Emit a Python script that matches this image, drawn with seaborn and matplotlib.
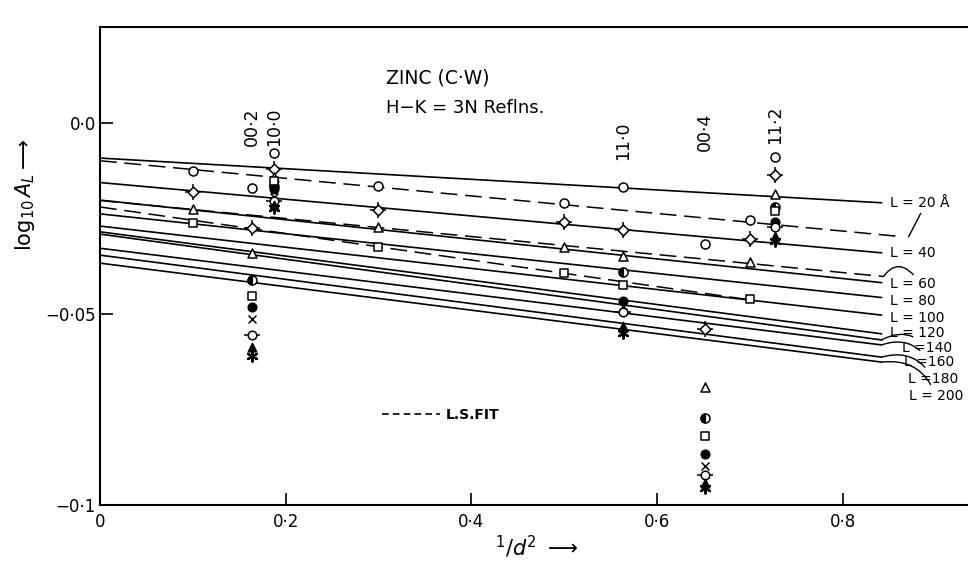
import matplotlib
matplotlib.use("Agg")
import pandas as pd
import matplotlib.pyplot as plt
from matplotlib.markers import MarkerStyle
from matplotlib.lines import Line2D
import seaborn as sns

sns.set_theme(style="white")
plt.rcParams['font.family'] = ['DejaVu Sans']
plt.rcParams['mathtext.fontset'] = 'dejavusans'
plt.rcParams['text.color'] = 'black'
plt.rcParams['axes.labelcolor'] = 'black'
plt.rcParams['xtick.color'] = 'black'
plt.rcParams['ytick.color'] = 'black'

# --- data ------------------------------------------------------------
L_values = [20, 40, 60, 80, 100, 120, 140, 160, 180, 200]

# solid fitted lines: value at 1/d^2 = 0 and at the right end
fit_x_end = 0.842
fit_start = [-0.0092, -0.0156, -0.0202, -0.0238, -0.0270,
             -0.0285, -0.0291, -0.0328, -0.0346, -0.0367]
fit_end = [-0.0209, -0.0340, -0.0418, -0.0457, -0.0503,
           -0.0552, -0.0568, -0.0581, -0.0613, -0.0626]

# dashed least squares fits
ls_x_end = [0.865, 0.844, 0.70]
ls_start = [-0.0099, -0.0203, -0.0220]
ls_end = [-0.0298, -0.0402, -0.0463]

# reflections (1/d^2) and measured log A_L for each L
refl_x = [0.1635, 0.1877, 0.563, 0.652, 0.727]
refl_names = ["00·2", "10·0", "11·0", "00·4", "11·2"]
refl_y = [
    [-0.0170, -0.0078, -0.0169, -0.0317, -0.0088],   # L=20
    [-0.0275, -0.0120, -0.0280, -0.0539, -0.0136],   # L=40
    [-0.0340, -0.0141, -0.0348, -0.0690, -0.0186],   # L=60
    [-0.0411, -0.0165, -0.0391, -0.0773, -0.0220],   # L=80
    [-0.0453, -0.0152, -0.0424, -0.0819, -0.0230],   # L=100
    [-0.0482, -0.0173, -0.0465, -0.0867, -0.0259],   # L=120
    [-0.0513, -0.0194, -0.0479, -0.0898, -0.0264],   # L=140
    [-0.0555, -0.0204, -0.0495, -0.0922, -0.0272],   # L=160
    [-0.0586, -0.0215, -0.0532, -0.0943, -0.0296],   # L=180
    [-0.0610, -0.0223, -0.0550, -0.0956, -0.0309],   # L=200
]

# extra points lying on the fits
extra_x = [0.1, 0.3, 0.5, 0.7]
extra_L = [20, 40, 60, 100]
extra_y = [
    [-0.0125, -0.0165, -0.0209, -0.0254],
    [-0.0180, -0.0228, -0.0258, -0.0305],
    [-0.0225, -0.0272, -0.0324, -0.0363],
    [-0.0261, -0.0324, -0.0394, -0.0460],
]

xtick_vals = [0, 0.2, 0.4, 0.6, 0.8]
xtick_labels = ["0", "0·2", "0·4", "0·6", "0·8"]
ytick_vals = [0.0, -0.05, -0.1]
ytick_labels = ["0·0", "−0·05", "−0·1"]

# --- long tables -----------------------------------------------------
fits = pd.DataFrame(
    [(L, 0.0, s) for L, s in zip(L_values, fit_start)] +
    [(L, fit_x_end, e) for L, e in zip(L_values, fit_end)],
    columns=["L", "x", "y"])
ls_fits = pd.DataFrame(
    [(i, 0.0, s) for i, s in enumerate(ls_start)] +
    [(i, xe, e) for i, (xe, e) in enumerate(zip(ls_x_end, ls_end))],
    columns=["k", "x", "y"])

rows = []
for L, ys in zip(L_values, refl_y):
    rows += [(L, x, y) for x, y in zip(refl_x, ys)]
for L, ys in zip(extra_L, extra_y):
    rows += [(L, x, y) for x, y in zip(extra_x, ys)]
points = pd.DataFrame(rows, columns=["L", "x", "y"])

# --- figure ----------------------------------------------------------
fig = plt.figure(figsize=(9.68, 5.86), dpi=100)
ax = fig.add_axes([0.1033, 0.1382, 0.8967, 0.8157])

sns.lineplot(data=fits, x="x", y="y", units="L", estimator=None,
             color="black", linewidth=1.2, ax=ax, zorder=2)
sns.lineplot(data=ls_fits, x="x", y="y", units="k", estimator=None,
             color="black", linewidth=1.1, dashes=False, ax=ax, zorder=2,
             linestyle=(0, (11, 5)))

open_kw = dict(color="white", edgecolor="black", linewidth=1.1)
line_kw = dict(color="black", linewidth=1.1)
fill_kw = dict(color="black", edgecolor="black", linewidth=0.8)
marker_layers = {
    20: [("o", 42, open_kw)],
    40: [("+", 120, line_kw), ("D", 30, open_kw)],
    60: [("^", 42, open_kw)],
    80: [("o", 42, open_kw), (MarkerStyle("o", fillstyle="left"), 42, fill_kw)],
    100: [("s", 30, open_kw)],
    120: [("o", 42, fill_kw)],
    140: [("x", 32, line_kw)],
    160: [("_", 130, line_kw), ("o", 38, open_kw)],
    180: [("^", 42, fill_kw)],
    200: [((6, 2, 0), 55, dict(color="black", linewidth=1.6))],
}
for L in L_values:
    sub = points[points["L"] == L]
    for marker, size, kw in marker_layers[L]:
        sns.scatterplot(data=sub, x="x", y="y", marker=marker, s=size,
                        ax=ax, zorder=3, legend=False, **kw)

# reflection names above the columns
name_y = [-0.0010, -0.0010, -0.0047, -0.0024, -0.0005]
for x, name, y in zip(refl_x, refl_names, name_y):
    ax.text(x, y, name, rotation=90, ha="center", va="center", fontsize=12.5)

ax.text(0.308, 0.0118, "ZINC (C·W)", fontsize=13.5, ha="left", va="center")
ax.text(0.308, 0.0039, "H−K = 3N Reflns.", fontsize=13, ha="left", va="center")

# right hand labels
plain_pos = {20: (0.851, -0.0209), 40: (0.851, -0.0340), 60: (0.851, -0.0422),
             80: (0.851, -0.0466), 100: (0.851, -0.0511), 120: (0.851, -0.0551)}
plain_txt = {20: "L = 20 Å", 40: "L = 40", 60: "L = 60",
             80: "L = 80", 100: "L = 100", 120: "L = 120"}
for L, (tx, ty) in plain_pos.items():
    ax.text(tx, ty, plain_txt[L], fontsize=10, ha="left", va="center")

lead_pos = {140: (0.864, -0.0588), 160: (0.866, -0.0625),
            180: (0.870, -0.0669), 200: (0.871, -0.0715)}
lead_txt = {140: "L =140", 160: "L =160", 180: "L =180", 200: "L = 200"}
for L, (tx, ty) in lead_pos.items():
    i = L_values.index(L)
    ax.annotate(lead_txt[L], xy=(fit_x_end, fit_end[i]), xytext=(tx, ty),
                fontsize=10, ha="left", va="center",
                arrowprops=dict(arrowstyle="-", color="black", lw=1.0,
                                shrinkA=1, shrinkB=0,
                                connectionstyle="arc3,rad=0.4"))

# leader from the L=20 label down to its least squares line
ax.annotate("", xy=(ls_x_end[0] + 0.006, ls_end[0]), xytext=(0.884, -0.0237),
            arrowprops=dict(arrowstyle="-", color="black", lw=1.0,
                            shrinkA=0, shrinkB=0))
# bracket joining the second dashed fit to its label
ax.annotate("", xy=(ls_x_end[1], ls_end[1]), xytext=(0.876, -0.0397),
            arrowprops=dict(arrowstyle="-", color="black", lw=1.0,
                            shrinkA=0, shrinkB=0,
                            connectionstyle="arc3,rad=0.6"))

# L.S. fit key
key = Line2D([], [], color="black", linewidth=1.2, linestyle=(0, (4, 2.5)))
ax.legend([key], ["L.S.FIT"], loc="center left", bbox_to_anchor=(0.31, 0.188),
          frameon=False, handlelength=4.2, handletextpad=0.4,
          prop=dict(size=10, weight="bold"))

# axes
ax.set_xlim(0, 0.935)
ax.set_ylim(-0.1, 0.0251)
ax.set_xticks(xtick_vals)
ax.set_xticklabels(xtick_labels)
ax.set_yticks(ytick_vals)
ax.set_yticklabels(ytick_labels)
ax.tick_params(axis="both", direction="in", length=9, width=1.2,
               labelsize=12, colors="black", bottom=True, left=True)
ax.tick_params(axis="x", pad=6)
ax.tick_params(axis="y", pad=3)
for side in ["top", "left", "bottom"]:
    ax.spines[side].set_color("black")
    ax.spines[side].set_linewidth(1.5)
ax.spines["right"].set_visible(False)

ax.set_ylabel(r"$\log_{10}A_{L}\longrightarrow$", fontsize=15, color="black")
ax.yaxis.set_label_coords(-0.072, 0.65)
ax.set_xlabel(r"${}^{1}/d^{2}\ \longrightarrow$", fontsize=15, color="black")
ax.xaxis.set_label_coords(0.503, -0.06)

fig.savefig("out.png", dpi=100)
